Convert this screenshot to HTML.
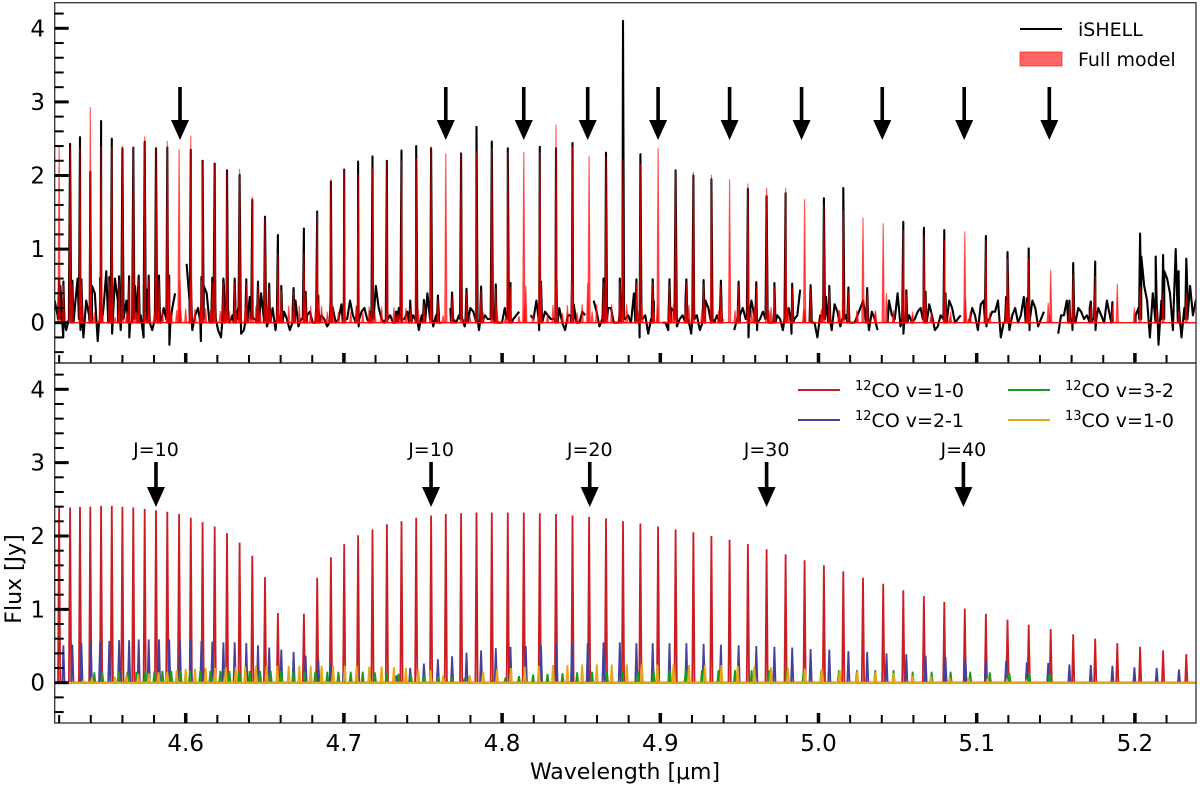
<!DOCTYPE html>
<html><head><meta charset="utf-8">
<style>
html,body{margin:0;padding:0;background:#fff;}
svg{display:block;font-family:"DejaVu Sans","Liberation Sans",sans-serif;}
</style></head>
<body>
<svg id="fig" width="1200" height="787" viewBox="0 0 1200 787" xmlns="http://www.w3.org/2000/svg">
<g id="topPanel"></g>
<g id="botPanel"></g>
<g id="axes"></g>
<text x="0" y="0" transform="translate(21,579) rotate(-90)" font-size="22" text-anchor="middle">Flux [Jy]</text>
<text x="625" y="779" font-size="22" text-anchor="middle">Wavelength [μm]</text>
<g>
  <line x1="1020" y1="29" x2="1062" y2="29" stroke="#000" stroke-width="2"/>
  <text x="1078" y="36" font-size="19">iSHELL</text>
  <rect x="1020" y="52" width="42" height="14" fill="rgba(255,0,0,0.6)" stroke="rgba(255,0,0,0.6)"/>
  <text x="1078" y="66" font-size="19">Full model</text>
</g>
<g>
  <line x1="798" y1="390" x2="840" y2="390" stroke="#c81e24" stroke-width="2"/>
  <text x="855" y="397" font-size="19"><tspan font-size="13" dy="-7">12</tspan><tspan dy="7">CO v=1-0</tspan></text>
  <line x1="798" y1="420" x2="840" y2="420" stroke="#45409a" stroke-width="2"/>
  <text x="855" y="427" font-size="19"><tspan font-size="13" dy="-7">12</tspan><tspan dy="7">CO v=2-1</tspan></text>
  <line x1="1008" y1="390" x2="1050" y2="390" stroke="#1e9a1e" stroke-width="2"/>
  <text x="1065" y="397" font-size="19"><tspan font-size="13" dy="-7">12</tspan><tspan dy="7">CO v=3-2</tspan></text>
  <line x1="1008" y1="420" x2="1050" y2="420" stroke="#e6a817" stroke-width="2"/>
  <text x="1065" y="427" font-size="19"><tspan font-size="13" dy="-7">13</tspan><tspan dy="7">CO v=1-0</tspan></text>
</g>
</svg>
<script>
const redWl=[4.5200,4.5269,4.5332,4.5397,4.5465,4.5533,4.5600,4.5669,4.5741,4.5812,
4.5884,4.5958,4.6032,4.6107,4.6183,4.6261,4.6341,4.6421,4.6501,4.6583,
4.6747,4.6831,4.6918,4.7002,4.7090,4.7181,4.7272,4.7364,4.7457,4.7551,
4.7644,4.7741,4.7838,4.7935,4.8036,4.8137,4.8238,4.8341,4.8445,4.8550,
4.8657,4.8764,4.8874,4.8986,4.9097,4.9209,4.9323,4.9438,4.9554,4.9672,
4.9792,4.9912,5.0034,5.0157,5.0281,5.0409,5.0536,5.0666,5.0795,5.0925,
5.1058,5.1195,5.1329,5.1468,5.1610,5.1749,5.1889,5.2033,5.2178,5.2325];
const redFlux=[2.39,2.39,2.40,2.40,2.41,2.41,2.40,2.39,2.37,2.35,
2.33,2.30,2.25,2.19,2.13,2.04,1.91,1.73,1.44,0.95,
0.94,1.43,1.71,1.89,2.01,2.09,2.16,2.20,2.25,2.28,
2.30,2.31,2.32,2.32,2.32,2.32,2.31,2.30,2.28,2.26,
2.24,2.20,2.17,2.13,2.09,2.05,2.00,1.95,1.89,1.82,
1.75,1.67,1.60,1.52,1.43,1.35,1.26,1.18,1.10,1.01,
0.94,0.86,0.79,0.73,0.66,0.60,0.54,0.49,0.44,0.39];
const modelFlux=[2.39,2.39,2.39,2.93,2.40,2.39,2.40,2.39,2.53,2.37,
2.47,2.36,2.54,2.19,2.15,2.07,2.09,1.71,1.43,0.95,
0.95,1.49,1.95,2.08,2.02,2.10,2.20,2.20,2.24,2.40,
2.30,2.30,2.32,2.37,2.32,2.32,2.32,2.69,2.39,2.26,
2.26,2.22,2.16,2.37,2.07,2.05,2.01,1.95,1.89,1.83,
1.83,1.68,1.60,1.52,1.43,1.35,1.26,1.19,1.12,1.24,
1.12,0.87,0.87,0.72,0.67,0.63,0.53,0.49,0.42,0.40];
const obsFlux=[0.60,2.43,2.52,2.05,2.74,2.50,2.37,2.38,2.46,2.37,
2.38,null,2.35,2.20,2.16,2.07,2.01,1.67,1.44,1.19,
1.28,1.51,1.92,2.08,2.19,2.26,2.20,2.34,2.40,2.37,
null,2.30,2.66,2.46,2.37,null,2.39,2.37,2.44,null,
2.31,4.10,2.29,null,2.07,2.00,1.95,null,1.82,1.72,
1.76,null,1.69,1.83,null,null,1.37,1.29,1.26,null,
1.18,0.96,1.01,null,0.81,0.83,0.65,1.21,0.92,0.87];
const blueWl=[4.5227,4.5284,4.5341,4.5400,4.5459,4.5517,4.5579,4.5642,4.5703,4.5766,4.5831,4.5896,4.5964,4.6032,4.6099,4.6168,4.6238,4.6310,4.6383,4.6457,4.6528,4.6604,4.6682,4.6758,4.6838,4.6916,4.7000,4.7082,4.7166,4.7333,4.7419,4.7506,4.7594,
4.7684,4.7775,4.7867,4.7960,4.8053,4.8150,4.8246,4.8344,4.8442,4.8541,4.8641,4.8744,4.8849,4.8952,4.9058,4.9165,4.9274,4.9383,4.9495,4.9607,4.9721,4.9834,4.9950,5.0068,
5.0189,5.0308,5.0430,5.0555,5.0677,5.0803,5.0929,5.1058,5.1186,5.1317,5.1452,5.1586,5.1721,5.1858,5.1997,5.2138,5.2279];
const blueFlux=[0.51,0.52,0.54,0.55,0.56,0.57,0.58,0.58,0.59,0.59,0.59,0.59,0.58,0.58,0.57,0.56,0.55,0.55,0.54,0.51,0.48,0.45,0.42,0.37,0.32,0.26,0.22,0.17,0.10,0.10,0.20,0.26,0.32,
0.36,0.41,0.44,0.47,0.49,0.50,0.51,0.53,0.53,0.54,0.55,0.55,0.54,0.54,0.54,0.54,0.53,0.52,0.51,0.50,0.49,0.48,0.46,0.45,
0.43,0.42,0.40,0.39,0.37,0.35,0.33,0.32,0.30,0.28,0.27,0.25,0.24,0.23,0.21,0.20,0.18];
const greenWl=[4.5422,4.5473,4.5577,4.5632,4.5689,4.5746,4.5802,4.5853,4.5909,4.5968,4.6027,4.6092,4.6156,4.6219,4.6276,4.6339,4.6404,4.6470,4.6537,4.6604,4.6681,4.6752,4.6819,4.6895,4.6965,4.7043,4.7119,4.7196,4.7270,4.7346,4.7424,4.7506,4.7597,
4.7680,4.7760,4.7933,4.8021,4.8107,4.8196,4.8287,4.8382,4.8474,4.8569,4.8663,4.8761,4.8859,4.8958,4.9059,4.9160,4.9263,4.9367,4.9472,4.9577,4.9687,4.9797,4.9906,5.0018,
5.0129,5.0243,5.0359,5.0474,5.0595,5.0715,5.0835,5.0959,5.1083,5.1207,5.1333,5.1462];
const greenFlux=[0.14,0.15,0.15,0.15,0.15,0.16,0.16,0.16,0.16,0.16,0.16,0.16,0.16,0.16,0.16,0.16,0.16,0.16,0.16,0.16,0.15,0.15,0.15,0.15,0.15,0.15,0.15,0.14,0.13,0.12,0.11,0.10,0.08,
0.07,0.04,0.02,0.07,0.09,0.11,0.12,0.13,0.14,0.15,0.15,0.16,0.16,0.16,0.17,0.17,0.17,0.17,0.17,0.17,0.17,0.17,0.17,0.17,
0.17,0.17,0.17,0.17,0.15,0.15,0.15,0.15,0.14,0.13,0.13,0.12];
const orangeWl=[4.5353,4.5406,4.5553,4.5625,4.5700,4.5766,4.5828,4.5884,4.5943,4.6000,4.6059,4.6126,4.6185,4.6253,4.6316,4.6376,4.6444,4.6512,4.6579,4.6651,4.6718,4.6790,4.6859,4.6932,4.7006,4.7080,4.7160,4.7238,4.7316,4.7392,4.7470,4.7548,
4.7627,4.7796,4.7880,4.7968,4.8055,4.8143,4.8232,4.8322,4.8413,4.8506,4.8598,4.8693,4.8788,4.8884,4.8982,4.9083,4.9181,4.9282,4.9386,4.9489,4.9594,4.9700,4.9807,4.9914,5.0020,
5.0134,5.0245,5.0361,5.0474,5.0593,5.0710,5.0829,5.0949,5.1069,5.1191,5.1314,5.1440];
const orangeFlux=[0.03,0.05,0.08,0.10,0.12,0.13,0.14,0.15,0.17,0.19,0.19,0.20,0.20,0.21,0.21,0.22,0.23,0.23,0.23,0.23,0.23,0.23,0.23,0.23,0.23,0.23,0.22,0.22,0.21,0.20,0.18,0.17,
0.10,0.10,0.15,0.18,0.20,0.22,0.23,0.24,0.24,0.25,0.25,0.25,0.25,0.25,0.25,0.25,0.24,0.24,0.24,0.23,0.22,0.21,0.20,0.19,0.19,
0.17,0.15,0.14,0.13,0.10,0.09,0.07,0.06,0.06,0.04,0.03,0.01];
const noise=[0.3,0.5,-0.1,0.2,0.6,-0.2,0.1,0.4,0.0,0.7,-0.15,0.3,0.2,-0.2,0.5,0.1,0.45,-0.1,0.3,0.2,
-0.3,0.4,0.1,0.8,-0.1,0.2,0.5,0.0,0.3,-0.2,0.55,0.1,0.2,-0.1,0.35,0.05,0.4,-0.05,0.2,0.1,
0.15,-0.1,0.3,0.05,0.1,0.0,0.2,0.05,0.1,0.0,0.25,0.05,0.1,-0.05,0.2,0.1,0.5,0.05,0.15,0.0,
0.2,0.05,0.3,0.0,0.1,0.4,-0.05,0.1,0.05,0.2,0.0,0.1,0.05,0.15,-0.1,0.1,0.05,0.2,0.0,0.1,
0.05,0.15,-0.05,0.1,0.3,0.0,0.1,0.05,0.2,-0.1,0.1,0.0,0.15,0.05,0.3,-0.05,0.1,0.2,0.0,0.1,
0.1,0.4,-0.2,0.1,0.05,0.2,0.0,-0.1,0.15,0.05,0.3,-0.15,0.1,0.05,0.2,0.0,0.1,-0.05,0.15,0.05,
0.2,-0.2,0.1,0.05,0.35,0.0,0.1,-0.1,0.2,0.05,0.45,0.0,0.15,-0.2,0.1,0.05,0.25,-0.05,0.1,0.0,
0.1,0.3,-0.1,0.05,0.2,0.0,0.1,0.4,-0.15,0.1,0.05,0.2,0.0,0.1,-0.05,0.15,0.3,0.0,0.1,0.05,
0.2,-0.1,0.3,0.05,0.15,-0.2,0.25,0.1,0.0,0.35,-0.1,0.2,0.05,0.1,0.4,-0.15,0.1,0.2,0.0,0.15,
0.1,0.05,0.2,0.0,0.1,0.3,0.6,-0.3,0.8,0.2,0.5,-0.2,0.9,0.3,0.6,-0.1,0.7,0.2,0.5,0.3];
const noise2=[0.1,-0.2,0.4,0.2,-0.1,0.3,0.5,-0.25,0.2,0.1,0.6,-0.1,0.3,0.0,0.4,-0.2,0.2,0.5,0.0,0.3,
0.2,0.6,-0.1,0.3,0.1,-0.25,0.4,0.2,-0.1,0.5,0.0,0.3,-0.15,0.2,0.1,0.4,0.0,0.25,-0.1,0.15,
0.05,0.2,-0.05,0.1,0.15,0.0,0.1,-0.05,0.2,0.05,0.1,0.3,0.0,0.15,0.05,0.1,0.2,0.0,0.1,0.15,
0.0,0.15,0.1,-0.1,0.2,0.05,0.1,0.0,0.3,0.05,0.1,-0.05,0.2,0.0,0.1,0.05,0.15,0.0,0.2,0.05,
0.1,0.0,0.2,0.05,-0.1,0.15,0.05,0.2,0.0,0.1,0.25,0.0,0.1,-0.05,0.15,0.05,0.2,0.0,0.1,0.05,
0.0,0.2,0.05,-0.15,0.3,0.1,0.0,0.2,-0.05,0.1,0.05,0.2,-0.1,0.3,0.0,0.1,0.05,0.2,-0.1,0.1,
0.05,0.3,-0.1,0.15,0.0,0.2,0.05,0.3,-0.15,0.1,0.05,0.2,0.0,0.1,0.35,-0.1,0.15,0.05,0.2,0.0,
0.2,0.0,0.15,-0.1,0.1,0.3,0.05,-0.05,0.2,0.0,0.15,0.05,0.25,-0.1,0.1,0.0,0.2,0.05,0.15,0.0,
0.1,0.25,-0.05,0.15,0.3,0.0,-0.1,0.2,0.1,0.05,0.3,-0.05,0.15,0.25,0.0,0.1,0.3,-0.1,0.2,0.05,
0.2,-0.1,0.1,0.3,0.0,0.5,-0.2,0.6,0.1,0.9,0.3,0.4,-0.3,0.7,0.4,1.0,-0.2,0.5,0.1,0.4];
const gaps=[[4.5935,4.5990],[4.7620,4.7670],[4.8110,4.8165],[4.8525,4.8575],[4.8960,4.9010],[4.9410,4.9465],[4.9885,4.9940],[5.0380,5.0430],[5.0900,5.0950],[5.1440,5.1500],[5.1860,5.2000]];
const topArrows=[4.5964,4.7644,4.8137,4.8541,4.8986,4.9438,4.9893,5.0403,5.0921,5.1459];
const botArrows=[4.5812,4.7551,4.8554,4.9672,5.0916];
const botArrowLabels=["J=10","J=10","J=20","J=30","J=40"];
const xTicks=[4.6,4.7,4.8,4.9,5.0,5.1,5.2];
const xTickLabels=["4.6","4.7","4.8","4.9","5.0","5.1","5.2"];
const yTicks=[0,1,2,3,4];
const yTickLabels=["0","1","2","3","4"];

const NS="http://www.w3.org/2000/svg";
const XMIN=4.5172,XMAX=5.2385;
const X0=54.7,X1=1196;
const xs=w=>185.7+(w-4.6)*1582;
const yT=f=>322.7-f*73.6;
const yB=f=>682.7-f*73.35;
function mk(tag,attrs,parent){const e=document.createElementNS(NS,tag);for(const k in attrs)e.setAttribute(k,attrs[k]);parent.appendChild(e);return e;}
const topG=document.getElementById('topPanel'),botG=document.getElementById('botPanel'),axesG=document.getElementById('axes');
const HW=0.0007;
function peaksPath(wls,fl,ys){let d='M'+X0+','+ys(0).toFixed(1);
  for(let i=0;i<wls.length;i++){const w=wls[i],f=fl[i];if(f==null)continue;
    d+=' L'+xs(w-HW).toFixed(1)+','+ys(0).toFixed(1)+' L'+xs(w).toFixed(1)+','+ys(f).toFixed(1)+' L'+xs(w+HW).toFixed(1)+','+ys(0).toFixed(1);}
  d+=' L'+X1+','+ys(0).toFixed(1);return d;}

const defs=mk('defs',{},document.getElementById('fig'));
const c1=mk('clipPath',{id:'ct'},defs);mk('rect',{x:X0,y:2.7,width:X1-X0,height:360.3},c1);
const c2=mk('clipPath',{id:'cb'},defs);mk('rect',{x:X0,y:363,width:X1-X0,height:360},c2);
topG.setAttribute('clip-path','url(#ct)');botG.setAttribute('clip-path','url(#cb)');

let pts=[];
const step=(XMAX-XMIN)/(noise.length-1);
for(let i=0;i<noise.length;i++)pts.push([XMIN+i*step,noise[i]]);
for(let i=0;i<noise2.length;i++)pts.push([XMIN+(i+0.5)*step,noise2[i]]);
for(let i=0;i<redWl.length;i++){if(obsFlux[i]==null)continue;pts.push([redWl[i]-HW,0.05]);pts.push([redWl[i],obsFlux[i]]);pts.push([redWl[i]+HW,0.05]);}
for(let i=0;i<blueWl.length;i++){pts.push([blueWl[i]-HW,0.0]);pts.push([blueWl[i],blueFlux[i]+0.05]);pts.push([blueWl[i]+HW,0.0]);}
pts.sort((a,b)=>a[0]-b[0]);
let d='',pen=false;
for(const p of pts){const inGap=gaps.some(g=>p[0]>=g[0]&&p[0]<=g[1]);
  if(inGap){pen=false;continue;}
  d+=(pen?' L':' M')+xs(p[0]).toFixed(1)+','+yT(p[1]).toFixed(1);pen=true;}
const obs=mk('path',{d:d,fill:'none',stroke:'#000','stroke-width':2.1,'stroke-linejoin':'round'},topG);



const modelSeries=[[redWl,modelFlux],[blueWl,blueFlux],[greenWl,greenFlux],[orangeWl,orangeFlux]];
const mg=mk('g',{},topG);


for(const s of modelSeries){
  const p=mk('path',{d:peaksPath(s[0],s[1],yT)+' Z',fill:'rgba(255,0,0,0.6)',stroke:'rgba(255,0,0,0.6)','stroke-width':1.2},mg);
  
  
}

const comps=[[redWl,redFlux,'#c81e24','12co-v1-0-lines'],[blueWl,blueFlux,'#45409a','12co-v2-1-lines'],[greenWl,greenFlux,'#1e9a1e','12co-v3-2-lines'],[orangeWl,orangeFlux,'#e6a817','13co-v1-0-lines']];
for(const c of comps){
  const p=mk('path',{d:peaksPath(c[0],c[1],yB),fill:'none',stroke:c[2],'stroke-width':1.8},botG);
  
  
}

function arrow(x,y0,y1,parent){
  const g=mk('g',{},parent);
  
  
  mk('rect',{x:x-1.8,y:y0,width:3.6,height:y1-y0-18},g);
  mk('polygon',{points:(x-9)+','+(y1-20)+' '+(x+9)+','+(y1-20)+' '+x+','+y1},g);
}
for(const w of topArrows)arrow(xs(w),87,140,topG);
for(let i=0;i<botArrows.length;i++){const x=xs(botArrows[i]);arrow(x,462,507,botG);
  const t=mk('text',{x:x,y:456,'font-size':19,'text-anchor':'middle'},botG);t.textContent=botArrowLabels[i];
  
  }

for(const [y0,y1,ys,name] of [[2.7,363,yT,'top'],[363,723,yB,'bottom']]){
  const f=mk('rect',{x:X0,y:y0,width:X1-X0,height:y1-y0,fill:'none',stroke:'#333','stroke-width':1.3},axesG);
  
  
  for(let k=-2;k<=21;k++){const v=k*0.2,y=ys(v);if(y<y0||y>y1)continue;
    const major=(k%5===0);mk('line',{x1:X0,x2:X0+(major?14:9),y1:y,y2:y,stroke:'#000','stroke-width':major?3:2},axesG);}
  for(let i=0;i<yTicks.length;i++){const t=mk('text',{x:45,y:ys(yTicks[i])+8,'font-size':23,'text-anchor':'end'},axesG);t.textContent=yTickLabels[i];
    
    }
  for(let k=226;k<=261;k++){const v=k*0.02,x=xs(v);if(x<X0||x>X1)continue;
    const major=(k%5===0);mk('line',{x1:x,x2:x,y1:y1,y2:y1-(major?10:8),stroke:'#000','stroke-width':major?3.5:2},axesG);}
}
for(let i=0;i<xTicks.length;i++){const t=mk('text',{x:xs(xTicks[i]),y:751,'font-size':23,'text-anchor':'middle'},axesG);t.textContent=xTickLabels[i];
  
  }
</script>
</body></html>
